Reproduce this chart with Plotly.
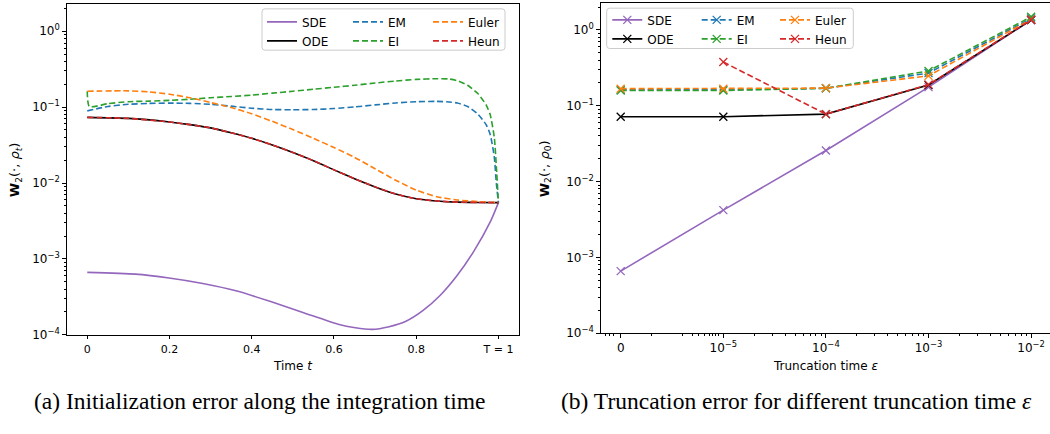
import math
import plotly.graph_objects as go

W, H = 1050, 434

# ---------------- data: (a) initialization error along time ----------------
t_sde = [0, 0.117, 0.199, 0.281, 0.364, 0.446, 0.528, 0.61, 0.652, 0.693, 0.734, 0.775, 0.816, 0.858, 0.899, 0.94, 0.981, 1.0]
sde_a = [6.65e-4, 6.3e-4, 5.6e-4, 4.74e-4, 3.77e-4, 2.74e-4, 1.94e-4, 1.38e-4, 1.24e-4, 1.18e-4, 1.28e-4, 1.51e-4,
         2.08e-4, 3.3e-4, 6.0e-4, 1.26e-3, 3.15e-3, 5.52e-3]

t_grid = [0, 0.1, 0.2, 0.25, 0.3, 0.35, 0.4, 0.45, 0.5, 0.55, 0.6, 0.65, 0.7, 0.75, 0.8, 0.85, 0.9, 0.95, 1.0]
ode_a = [0.0733, 0.0711, 0.0637, 0.0588, 0.0533, 0.0459, 0.0388, 0.0318, 0.0253, 0.0197, 0.0149, 0.0114,
         8.9e-3, 7.16e-3, 6.22e-3, 5.81e-3, 5.6e-3, 5.55e-3, 5.52e-3]
heun_a = [0.0733, 0.0711, 0.0637, 0.0588, 0.0533, 0.0459, 0.0388, 0.0318, 0.0253, 0.0197, 0.0149, 0.0114,
          8.9e-3, 7.16e-3, 6.22e-3, 5.81e-3, 5.6e-3, 5.55e-3, 5.52e-3]

t_euler = [0, 0.1, 0.15, 0.2, 0.25, 0.3, 0.35, 0.4, 0.45, 0.5, 0.55, 0.6, 0.65, 0.7, 0.75, 0.8, 0.85, 0.9, 0.95, 1.0]
euler_a = [0.162, 0.164, 0.159, 0.148, 0.133, 0.115, 0.0988, 0.0817, 0.065, 0.0507, 0.0388, 0.0294, 0.0218,
           0.0154, 0.0109, 8.07e-3, 6.6e-3, 5.98e-3, 5.69e-3, 5.52e-3]

t_em = [0, 0.05, 0.1, 0.15, 0.2, 0.25, 0.3, 0.35, 0.4, 0.45, 0.5, 0.55, 0.6, 0.65, 0.7, 0.75, 0.8, 0.85,
        0.88, 0.9, 0.925, 0.95, 0.97, 0.98, 0.99, 0.995, 1.0]
em_a = [0.0893, 0.102, 0.109, 0.112, 0.113, 0.112, 0.109, 0.103, 0.0968, 0.093, 0.0925, 0.093, 0.0959, 0.1006,
        0.107, 0.1135, 0.118, 0.119, 0.117, 0.1135, 0.102, 0.081, 0.0588, 0.0436, 0.0218, 9.8e-3, 5.52e-3]

t_ei = [0, 0.005, 0.05, 0.1, 0.15, 0.2, 0.25, 0.3, 0.35, 0.4, 0.45, 0.5, 0.55, 0.6, 0.65, 0.7, 0.75, 0.8, 0.85,
        0.88, 0.9, 0.925, 0.95, 0.97, 0.98, 0.99, 0.995, 1.0]
ei_a = [0.162, 0.102, 0.111, 0.118, 0.12, 0.123, 0.127, 0.133, 0.138, 0.144, 0.153, 0.162, 0.172, 0.183, 0.194,
        0.208, 0.221, 0.232, 0.237, 0.235, 0.223, 0.194, 0.151, 0.107, 0.0792, 0.0396, 0.0162, 5.52e-3]

# ---------------- data: (b) truncation error ----------------
eps_vals = [0, 1e-5, 1e-4, 1e-3, 1e-2]
eps_labels = ["0", "10<sup>−5</sup>", "10<sup>−4</sup>", "10<sup>−3</sup>", "10<sup>−2</sup>"]
sde_b = [6.6e-4, 4.2e-3, 2.57e-2, 0.176, 1.35]
ode_b = [0.0718, 0.0718, 0.0776, 0.188, 1.35]
em_b = [0.162, 0.162, 0.17, 0.27, 1.42]
ei_b = [0.159, 0.159, 0.17, 0.288, 1.49]
euler_b = [0.168, 0.168, 0.171, 0.248, 1.38]
heun_b = [None, 0.377, 0.0776, 0.19, 1.36]

ytick_vals = [1e-4, 1e-3, 1e-2, 1e-1, 1]
ytick_text = ["10<sup>−4</sup>", "10<sup>−3</sup>", "10<sup>−2</sup>", "10<sup>−1</sup>", "10<sup>0</sup>"]
xtick_a_vals = [0, 0.2, 0.4, 0.6, 0.8, 1.0]
xtick_a_text = ["0", "0.2", "0.4", "0.6", "0.8", "T = 1"]


def sympos(e):
    # symlog-like position: 0 -> 0, 10^-5 -> 1, ..., 10^-2 -> 4
    return 0.0 if e == 0 else math.log10(e) + 6


xb = [sympos(e) for e in eps_vals]

C = dict(SDE="#9467bd", ODE="#000000", EM="#1f77b4", EI="#2ca02c", Euler="#ff7f0e", Heun="#d62728")
DASH = "6px,3px"
LW = 1.6

fig = go.Figure()

series_a = [
    ("SDE", t_sde, sde_a, None, "legend"),
    ("ODE", t_grid, ode_a, None, "legend"),
    ("EM", t_em, em_a, DASH, "legend2"),
    ("EI", t_ei, ei_a, DASH, "legend2"),
    ("Euler", t_euler, euler_a, DASH, "legend3"),
    ("Heun", t_grid, heun_a, DASH, "legend3"),
]
for name, xs, ys, dash, lg in series_a:
    fig.add_trace(go.Scatter(
        x=xs, y=ys, name=name, mode="lines", xaxis="x", yaxis="y", legend=lg,
        line=dict(color=C[name], width=LW, dash=dash if dash else "solid", shape="spline", smoothing=0.6),
    ))

series_b = [
    ("SDE", sde_b, None, "legend4"),
    ("ODE", ode_b, None, "legend4"),
    ("EM", em_b, DASH, "legend5"),
    ("EI", ei_b, DASH, "legend5"),
    ("Euler", euler_b, DASH, "legend6"),
    ("Heun", heun_b, DASH, "legend6"),
]
for name, ys, dash, lg in series_b:
    fig.add_trace(go.Scatter(
        x=xb, y=ys, name=name, mode="lines+markers", xaxis="x2", yaxis="y2", legend=lg,
        line=dict(color=C[name], width=LW, dash=dash if dash else "solid"),
        marker=dict(symbol="x-thin", size=8, color=C[name], line=dict(color=C[name], width=1.3)),
    ))

axA = dict(l=66.7, r=519.0, t=4.0, b=340.3)
axB = dict(l=600.7, r=1050.0, t=2.7, b=338.7)


def px2x(p):
    return p / W


def px2y(p):
    return 1 - p / H


ylog_range = [-4, 0.36]
minor_y = [k * 10 ** d for d in range(-4, 1) for k in range(2, 10) if k * 10 ** d < 2.3]

axis_common = dict(showgrid=False, zeroline=False, showline=True, linecolor="#000", linewidth=1,
                   ticks="outside", ticklen=3.5, tickwidth=1, tickcolor="#000")
xfont = dict(family="DejaVu Sans", size=11, color="#000")
yfont = dict(family="DejaVu Sans", size=12, color="#000")

minor_xb = [-0.153, -0.111, -0.072, 0.302, 0.604, 0.698, 0.763, 0.815, 0.861, 0.897, 0.926, 0.951]
for dec in range(1, 4):
    minor_xb += [dec + math.log10(k) for k in range(2, 10)]

minor_y_cfg = dict(tickmode="array", tickvals=minor_y, ticks="outside", ticklen=2, tickcolor="#000", tickwidth=0.8)

fig.update_layout(
    width=W, height=H, margin=dict(l=0, r=0, t=0, b=0),
    paper_bgcolor="white", plot_bgcolor="white", hovermode=False,
    font=dict(family="DejaVu Sans", size=11, color="#000"),
    xaxis=dict(domain=[px2x(axA["l"]), px2x(axA["r"])], range=[-0.05, 1.05], anchor="y",
               tickmode="array", tickvals=xtick_a_vals, ticktext=xtick_a_text, mirror=True, tickfont=xfont,
               **axis_common),
    yaxis=dict(domain=[px2y(axA["b"]), px2y(axA["t"])], type="log", range=ylog_range, anchor="x",
               tickmode="array", tickvals=ytick_vals, ticktext=ytick_text, mirror=True, tickfont=yfont,
               minor=minor_y_cfg, **axis_common),
    xaxis2=dict(domain=[px2x(axB["l"]), 1.0], range=[-0.195, 4.184], anchor="y2",
                tickmode="array", tickvals=xb, ticktext=eps_labels, mirror=True, tickfont=yfont,
                minor=dict(tickmode="array", tickvals=minor_xb, ticks="outside", ticklen=2, tickcolor="#000",
                           tickwidth=0.8),
                **axis_common),
    yaxis2=dict(domain=[px2y(axB["b"]), px2y(axB["t"])], type="log", range=ylog_range, anchor="x2",
                tickmode="array", tickvals=ytick_vals, ticktext=ytick_text, mirror=False, tickfont=yfont,
                minor=minor_y_cfg, **axis_common),
)

# legends: three columns per subplot (matplotlib ncol=3 layout)
leg_common = dict(bgcolor="rgba(0,0,0,0)", borderwidth=0, font=dict(family="DejaVu Sans", size=12, color="#000"),
                  xanchor="left", yanchor="top", itemwidth=30, tracegroupgap=0, orientation="v")
leg_pos = {
    "legend": (302, 7.5), "legend2": (388, 7.5), "legend3": (468, 7.5),
    "legend4": (647.3, 5.5), "legend5": (736.7, 5.5), "legend6": (815, 5.5),
}
for key, (tx, ty) in leg_pos.items():
    fig.update_layout({key: dict(x=px2x(tx - 40), y=px2y(ty), **leg_common)})


def rounded_rect(x0, y0, x1, y1, r=3):
    X = lambda p: px2x(p)
    Y = lambda p: px2y(p)
    return (f"M {X(x0 + r)},{Y(y0)} L {X(x1 - r)},{Y(y0)} Q {X(x1)},{Y(y0)} {X(x1)},{Y(y0 + r)} "
            f"L {X(x1)},{Y(y1 - r)} Q {X(x1)},{Y(y1)} {X(x1 - r)},{Y(y1)} "
            f"L {X(x0 + r)},{Y(y1)} Q {X(x0)},{Y(y1)} {X(x0)},{Y(y1 - r)} "
            f"L {X(x0)},{Y(y0 + r)} Q {X(x0)},{Y(y0)} {X(x0 + r)},{Y(y0)} Z")


for (x0, y0, x1, y1) in [(262, 9, 505, 51), (606.7, 8.3, 853.3, 49.3)]:
    fig.add_shape(type="path", xref="paper", yref="paper", path=rounded_rect(x0, y0, x1, y1),
                  line=dict(color="#cccccc", width=1), fillcolor="rgba(255,255,255,0.8)", layer="above")

# axis titles
lab_font = dict(family="DejaVu Sans", size=12, color="#000")
ylab_font = dict(family="DejaVu Sans", size=13, color="#000")
fig.add_annotation(text="Time <i>t</i>", x=px2x((axA["l"] + axA["r"]) / 2), y=px2y(372), xref="paper", yref="paper",
                   showarrow=False, font=lab_font, xanchor="center", yanchor="middle")
fig.add_annotation(text="Truncation time <i>ε</i>", x=px2x((axB["l"] + axB["r"]) / 2), y=px2y(372), xref="paper",
                   yref="paper", showarrow=False, font=lab_font, xanchor="center", yanchor="middle")
fig.add_annotation(text="<b>W</b><sub>2</sub>(·, <i>ρ</i><sub><i>t</i></sub>)", x=px2x(15), y=px2y(173),
                   xref="paper", yref="paper", showarrow=False, font=ylab_font, textangle=-90,
                   xanchor="center", yanchor="middle")
fig.add_annotation(text="<b>W</b><sub>2</sub>(·, <i>ρ</i><sub>0</sub>)", x=px2x(545), y=px2y(172),
                   xref="paper", yref="paper", showarrow=False, font=ylab_font, textangle=-90,
                   xanchor="center", yanchor="middle")

# captions
cap_font = dict(family="Liberation Serif", size=23.5, color="#000")
fig.add_annotation(text="(a) Initialization error along the integration time", x=px2x(260), y=px2y(408),
                   xref="paper", yref="paper", showarrow=False, font=cap_font, xanchor="center", yanchor="middle")
fig.add_annotation(text="(b) Truncation error for different truncation time <i>ε</i>", x=px2x(796), y=px2y(408),
                   xref="paper", yref="paper", showarrow=False, font=cap_font, xanchor="center", yanchor="middle")

fig.write_html("out.html", post_script="document.body.style.margin='0px';", config={"displayModeBar": False})
